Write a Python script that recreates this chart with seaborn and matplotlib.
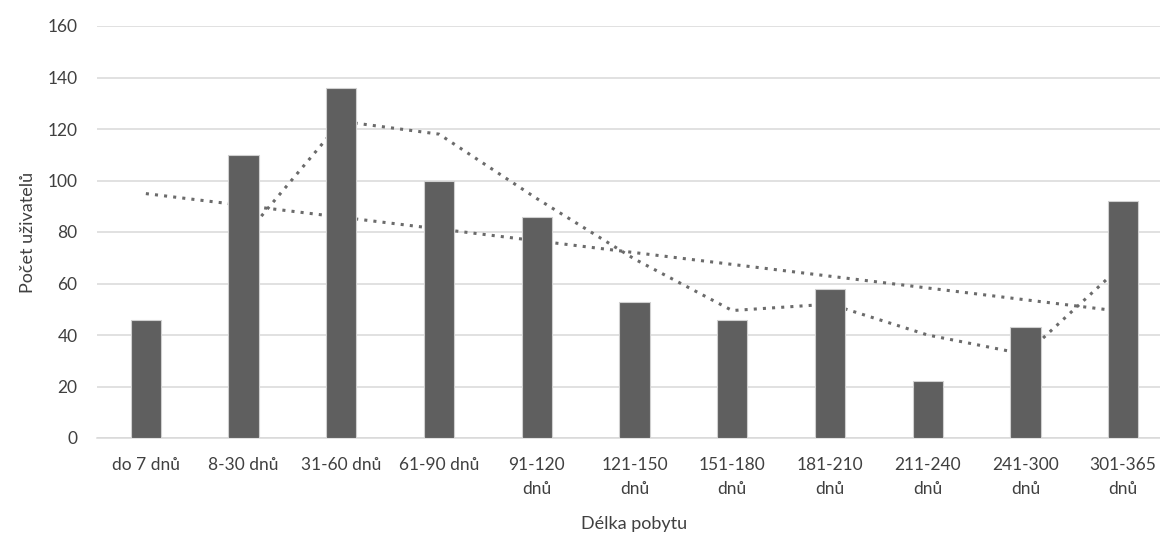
import numpy as np
import matplotlib
matplotlib.use('Agg')
import matplotlib.pyplot as plt
import pandas as pd
import seaborn as sns

categories = ["do 7 dnů", "8-30 dnů", "31-60 dnů", "61-90 dnů", "91-120\ndnů",
              "121-150\ndnů", "151-180\ndnů", "181-210\ndnů", "211-240\ndnů",
              "241-300\ndnů", "301-365\ndnů"]
users = [46, 110, 136, 100, 86, 53, 46, 58, 22, 43, 92]

df = pd.DataFrame({'kat': categories, 'pocet': users})

sns.set_style("white")
plt.rcParams['font.family'] = ['Lato', 'DejaVu Sans']

fig = plt.figure(figsize=(11.6, 5.41), dpi=100)
ax = fig.add_axes([97/1160, 1 - 438/541, (1172 - 97)/1160, (438 - 26)/541])

sns.barplot(data=df, x='kat', y='pocet', order=categories, color='#5f5f5f',
            saturation=1, width=0.31, edgecolor='#d0d0d0', linewidth=0.8, ax=ax)
for p in ax.patches:
    p.set_zorder(3)

# trend lines (Excel style): linear and 2-period moving average
x = np.arange(len(users))
k, q = np.polyfit(x, users, 1)
ax.plot(x, k * x + q, linestyle=(0, (1, 2)), color='#6b6b6b', linewidth=2.2, zorder=2)
ma = pd.Series(users).rolling(2).mean()
ax.plot(x, ma, linestyle=(0, (1, 2)), color='#6b6b6b', linewidth=2.2, zorder=2)

ax.set_ylim(0, 160)
ax.set_yticks(range(0, 161, 20))
ax.set_xlim(-0.5, 10.5)
ax.yaxis.grid(True, color='#d9d9d9', linewidth=1.1)
ax.set_axisbelow(True)
for s in ['top', 'right', 'left']:
    ax.spines[s].set_visible(False)
ax.spines['bottom'].set_color('#d9d9d9')
ax.spines['bottom'].set_linewidth(1.1)
ax.tick_params(axis='both', length=0, labelsize=12.5, colors='#404040')
ax.tick_params(axis='y', pad=14)
ax.tick_params(axis='x', pad=14)
for t in ax.get_xticklabels():
    t.set_linespacing(1.55)

ax.set_xlabel("Délka pobytu", fontsize=13, color='#404040', labelpad=14)
ax.set_ylabel("Počet uživatelů", fontsize=13, color='#404040', labelpad=8)

plt.savefig('out.png', dpi=100)
